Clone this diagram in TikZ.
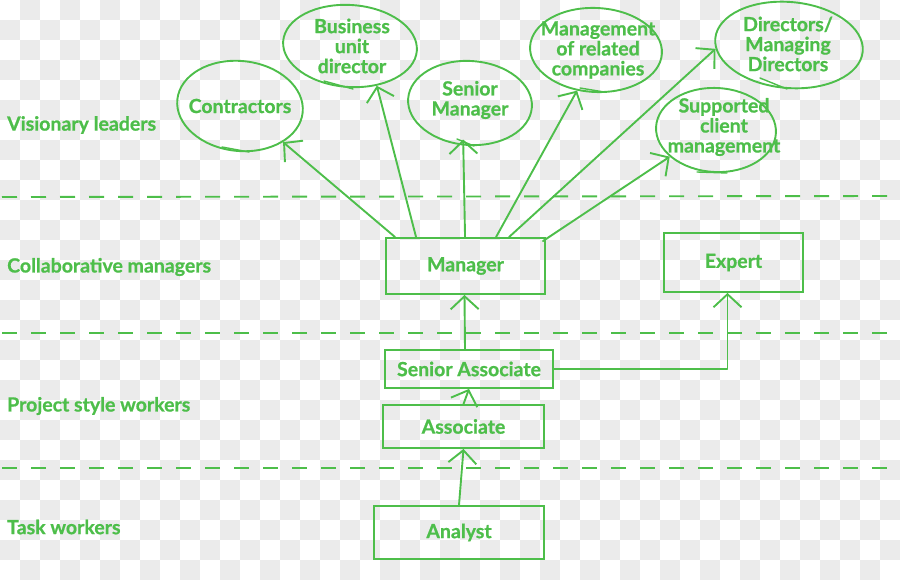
\documentclass[tikz,border=0pt]{standalone}
\usepackage{fontspec}
\setmainfont{Lato}[BoldFeatures={FakeBold=0.8}]
\usetikzlibrary{arrows.meta,shapes.geometric}
\definecolor{grn}{HTML}{4DBE4A}
\definecolor{chk}{HTML}{EBEBEB}
\begin{document}
\begin{tikzpicture}[x=1pt,y=-1pt,
  every node/.style={text=grn, font=\fontsize{19.5}{20}\selectfont\bfseries},
  ln/.style={draw=grn, line width=1.9pt, line cap=round, line join=round},
  arr/.style={ln, -{Straight Barb[length=13pt,width=28pt]}},
  bubble/.style={ellipse, draw=grn, line width=1.9pt, inner sep=0pt},
  boxx/.style={rectangle, draw=grn, line width=1.9pt, inner sep=0pt},
  divider/.style={draw=grn, line width=1.9pt, dash pattern=on 15pt off 14pt},
  lbl/.style={anchor=west, inner sep=0pt},
  txt/.style={align=center, inner sep=0pt}
]
\useasboundingbox (0,0) rectangle (900,580);
% checkerboard background
\begin{scope}
\clip (0,0) rectangle (900,580);
\foreach \j in {0,...,28} {
  \pgfmathtruncatemacro\off{mod(\j+1,2)}
  \foreach \k in {0,...,22} {
    \fill[chk] ({40*\k+20*\off},{20*\j}) rectangle ++(20,20);
  }
}
\end{scope}

% dividers
\draw[divider] (2,197) -- (900,196);
\draw[divider] (2,333) -- (900,333);
\draw[divider] (2,468) -- (900,468);

% tier labels
\node[lbl] (l1) at (7,125) {Visionary leaders};
\node[lbl] (l2) at (7,267) {Collaborative managers};
\node[lbl] (l3) at (7,406) {Project style workers};
\node[lbl] (l4) at (7,527) {Task workers};

% bubbles
\node[bubble, minimum width=126pt, minimum height=90pt, rotate=-6] (contr) at (240,106) {};
\node[txt] (contrT) at (240,106) {Contractors};
\node[bubble, minimum width=134pt, minimum height=82pt, rotate=-4] (bud) at (350,46) {};
\node[txt] (budT) at (352,46) {Business\\unit\\director};
\node[bubble, minimum width=124pt, minimum height=84pt, rotate=-4] (sm) at (470,103) {};
\node[txt] (smT) at (470,100) {Senior\\Manager};
\node[bubble, minimum width=132pt, minimum height=84pt, rotate=-3] (mrc) at (596,50) {};
\node[txt] (mrcT) at (598,50) {Management\\of related\\companies};
\node[bubble, minimum width=148pt, minimum height=86pt, rotate=-5] (dir) at (789,45) {};
\node[txt] (dirT) at (788,44) {Directors/\\Managing\\Directors};
\node[bubble, minimum width=120pt, minimum height=84pt, rotate=-3] (sup) at (716,130) {};
\node[txt] (supT) at (724,127) {Supported\\client\\management};

% tails of the hand-drawn bubbles
\draw[ln, line width=1.4pt] (222,147) -- (249,152);
\draw[ln, line width=1.4pt] (324,81) -- (353,89);
\draw[ln, line width=1.4pt] (457,139) -- (474,146);
\draw[ln, line width=1.4pt] (580,88) -- (604,92);
\draw[ln, line width=1.4pt] (760,78) -- (787,89);
\draw[ln, line width=1.4pt] (697,172) -- (727,173);

% boxes
\node[boxx, minimum width=159pt, minimum height=56pt] (mgr) at (465.5,266) {Manager};
\node[boxx, minimum width=139pt, minimum height=59pt] (exp) at (733.5,262.5) {Expert};
\node[boxx, minimum width=168pt, minimum height=38pt] (sa) at (469,369) {Senior Associate};
\node[boxx, minimum width=161pt, minimum height=43pt] (as) at (463.5,426.5) {Associate};
\node[boxx, minimum width=170pt, minimum height=53pt] (an) at (459,532.5) {Analyst};

% connectors
\coordinate (m1) at ([xshift=10pt]mgr.north west);
\coordinate (m2) at ([xshift=31pt]mgr.north west);
\coordinate (m3) at ([xshift=80pt]mgr.north west);
\coordinate (m4) at ([xshift=111pt]mgr.north west);
\coordinate (m5) at ([xshift=124pt]mgr.north west);
\coordinate (m6) at ([xshift=-3pt,yshift=-4pt]mgr.north east);
\draw[arr] (m1) -- (contr.-34);
\draw[arr] (m2) -- (bud.-52);
\draw[arr, shorten >=-6pt] (m3) -- (sm.-95);
\draw[arr] (m4) -- (mrc.-112);
\draw[arr] (m5) -- (dir.-172);
\draw[arr] (m6) -- (sup.-147);

\draw[arr] (an.north) -- (as.south);
\draw[arr] (as.north) -- (sa.south);
\draw[arr] ([xshift=-4pt]sa.north) -- ([xshift=-1pt]mgr.south);
\coordinate (ex) at ([xshift=-6pt]exp.south);
\draw[arr] (sa.east) -- (ex |- sa.east) -- (ex);
\end{tikzpicture}
\end{document}
